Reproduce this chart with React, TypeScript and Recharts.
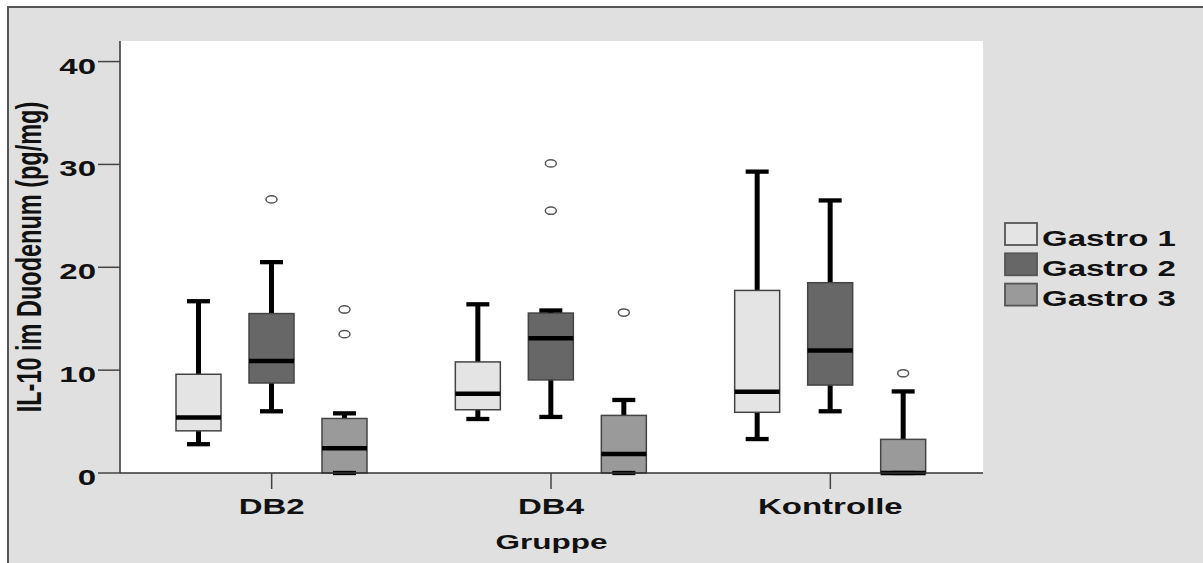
import { ComposedChart, Bar, XAxis, YAxis, CartesianGrid, Legend } from "recharts"

const groups = ["DB2", "DB4", "Kontrolle"]
const seriesNames = ["Gastro 1", "Gastro 2", "Gastro 3"]
const seriesColors = ["#e4e4e4", "#676767", "#9a9a9a"]
const yTicks = [0, 10, 20, 30, 40]

// each box: [lower whisker, q1, median, q3, upper whisker]
const gastro1Boxes = [
  [2.8, 4.1, 5.4, 9.6, 16.7],
  [5.25, 6.15, 7.7, 10.8, 16.4],
  [3.3, 5.9, 7.9, 17.75, 29.3],
]
const gastro2Boxes = [
  [6.0, 8.75, 10.9, 15.5, 20.5],
  [5.45, 9.05, 13.1, 15.55, 15.8],
  [6.0, 8.55, 11.9, 18.5, 26.5],
]
const gastro3Boxes = [
  [0, 0, 2.4, 5.3, 5.8],
  [0, 0, 1.85, 5.6, 7.1],
  [0, 0, 0, 3.27, 7.93],
]
const gastro1Outliers = [[], [], []]
const gastro2Outliers = [[26.6], [25.5, 30.1], []]
const gastro3Outliers = [[13.5, 15.9], [15.6], [9.7]]

const allBoxes = [gastro1Boxes, gastro2Boxes, gastro3Boxes]
const allOutliers = [gastro1Outliers, gastro2Outliers, gastro3Outliers]

const rows = groups.map((group, gi) => ({
  group,
  g1: [gastro1Boxes[gi][0], gastro1Boxes[gi][4]],
  g2: [gastro2Boxes[gi][0], gastro2Boxes[gi][4]],
  g3: [gastro3Boxes[gi][0], gastro3Boxes[gi][4]],
}))

const FONT = "'Liberation Sans', Arial, Helvetica, sans-serif"

// SPSS export is stretched horizontally, so text is too
function SText({ x, y, size, anchor = "start", rotate = 0, children }: any) {
  const rot = rotate ? ` rotate(${rotate})` : ""
  return (
    <text
      transform={`translate(${x},${y}) scale(1.5,1)${rot}`}
      textAnchor={anchor}
      fontFamily={FONT}
      fontWeight="bold"
      fontSize={size}
      fill="#111"
    >
      {children}
    </text>
  )
}

function BoxShape(props: any) {
  const { x, y, width, height, fill, box, outliers } = props
  const [lo, q1, med, q3, hi] = box
  const k = height / (hi - lo)
  const py = (v: number) => y + height - (v - lo) * k
  const cx = x + width / 2
  const capHalf = 11.5
  return (
    <g>
      <line x1={cx} x2={cx} y1={py(hi)} y2={py(lo)} stroke="#000" strokeWidth={5} />
      <rect x={x} y={py(q3)} width={width} height={py(q1) - py(q3)} fill={fill} stroke="#444" strokeWidth={1.5} />
      <line x1={x} x2={x + width} y1={py(med)} y2={py(med)} stroke="#000" strokeWidth={4.5} />
      <line x1={cx - capHalf} x2={cx + capHalf} y1={py(hi)} y2={py(hi)} stroke="#000" strokeWidth={4.3} />
      <line x1={cx - capHalf} x2={cx + capHalf} y1={py(lo)} y2={py(lo)} stroke="#000" strokeWidth={4.3} />
      {outliers.map((v: number, i: number) => (
        <ellipse key={i} cx={cx} cy={py(v)} rx={5.5} ry={3.6} fill="#fff" stroke="#555" strokeWidth={1.5} />
      ))}
    </g>
  )
}

function XTick({ x, y, payload }: any) {
  return <SText x={x} y={y + 25} size={22} anchor="middle">{payload.value}</SText>
}

function YTick({ x, y, payload }: any) {
  return <SText x={x} y={y + 12} size={22} anchor="end">{payload.value}</SText>
}

function renderLegend({ payload }: any) {
  return (
    <svg width={203} height={100}>
      {(payload || []).map((entry: any, i: number) => (
        <g key={entry.value}>
          <rect x={6} y={5 + i * 30.3} width={32} height={22} fill={entry.color} stroke="#555" strokeWidth={1.8} />
          <SText x={43} y={5 + i * 30.3 + 22.7} size={22}>{entry.value}</SText>
        </g>
      ))}
    </svg>
  )
}

export default function App() {
  return (
    <div style={{ position: "absolute", left: 0, top: 0, width: 1203, height: 563, background: "#fff", overflow: "hidden" }}>
      <div
        style={{
          position: "absolute",
          left: 7,
          top: 6,
          width: 1200,
          height: 560,
          background: "#e0e0e0",
          borderLeft: "2px solid #555",
          borderTop: "2px solid #555",
        }}
      />
      <div style={{ position: "absolute", left: 0, top: 0 }}>
        <ComposedChart
          width={1203}
          height={563}
          data={rows}
          margin={{ top: 41, right: 220, bottom: 30, left: 20 }}
          barGap={28}
        >
          <CartesianGrid fill="#fff" horizontal={false} vertical={false} />
          <XAxis
            dataKey="group"
            height={60}
            padding={{ left: 12, right: 13 }}
            tickSize={16}
            tickMargin={0}
            tickLine={{ stroke: "#444", strokeWidth: 1.5 }}
            axisLine={{ stroke: "#333", strokeWidth: 1.5 }}
            tick={<XTick />}
            label={{
              content: ({ viewBox }: any) => (
                <SText x={viewBox.x + viewBox.width / 2} y={viewBox.y + 76} size={21} anchor="middle">Gruppe</SText>
              ),
            }}
          />
          <XAxis xAxisId="top" dataKey="group" orientation="top" height={0} tick={false} tickLine={false} axisLine={{ stroke: "#777", strokeWidth: 2 }} />
          <YAxis
            type="number"
            domain={[0, 42]}
            ticks={yTicks}
            width={100}
            tickSize={22}
            tickLine={{ stroke: "#444", strokeWidth: 1.5 }}
            axisLine={{ stroke: "#333", strokeWidth: 1.5 }}
            tick={<YTick />}
            label={{
              content: ({ viewBox }: any) => (
                <SText x={viewBox.x + 21} y={viewBox.y + viewBox.height / 2} size={23.5} anchor="middle" rotate={-90}>
                  IL-10 im Duodenum (pg/mg)
                </SText>
              ),
            }}
          />
          <YAxis yAxisId="right" orientation="right" type="number" domain={[0, 42]} width={0} tick={false} tickLine={false} axisLine={{ stroke: "#777", strokeWidth: 2 }} />
          <Legend
            layout="vertical"
            align="center"
            verticalAlign="middle"
            width={203}
            content={renderLegend}
            wrapperStyle={{ left: 999, top: 218, width: 203 }}
          />
          {seriesNames.map((name, si) => (
            <Bar
              key={name}
              name={name}
              dataKey={`g${si + 1}`}
              fill={seriesColors[si]}
              barSize={45}
              isAnimationActive={false}
              shape={(p: any) => (
                <BoxShape {...p} fill={seriesColors[si]} box={allBoxes[si][p.index]} outliers={allOutliers[si][p.index]} />
              )}
            />
          ))}
        </ComposedChart>
      </div>
    </div>
  )
}
